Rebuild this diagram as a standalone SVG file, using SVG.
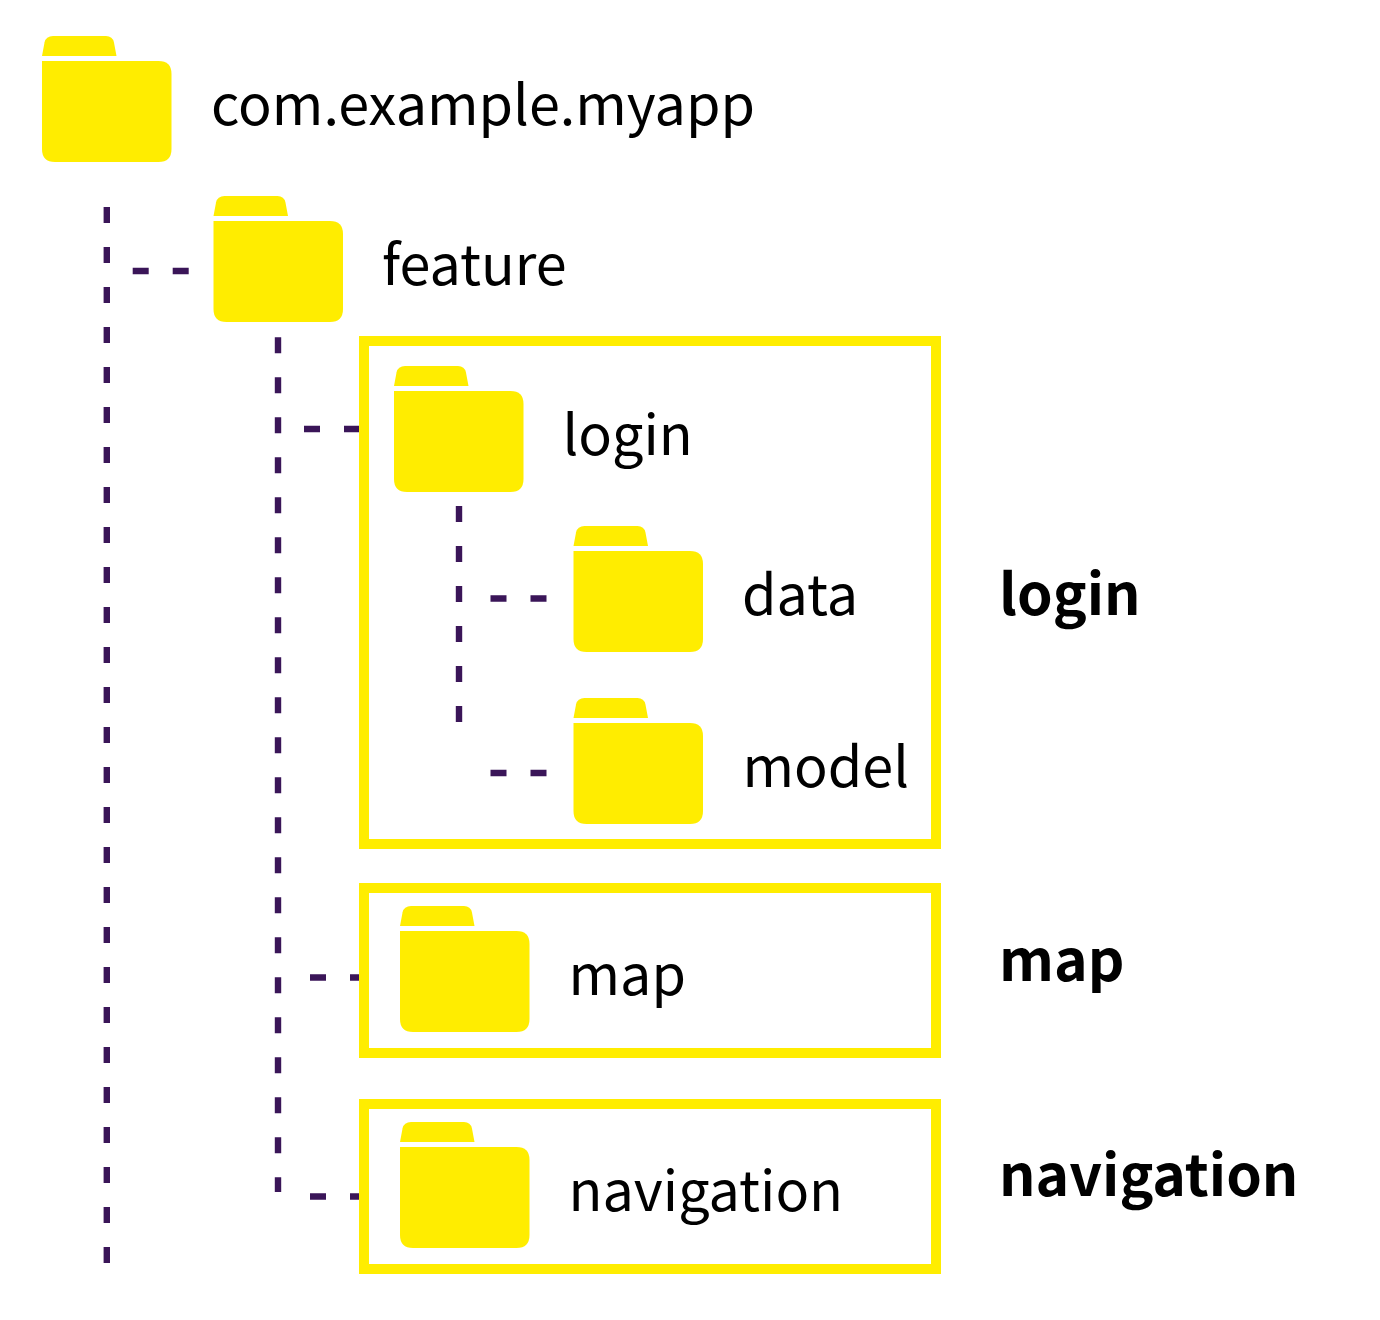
<svg xmlns="http://www.w3.org/2000/svg" width="1380" height="1320" viewBox="0 0 1380 1320">
<style>
.f{fill:#ffed00}
.b{fill:none;stroke:#ffed00;stroke-width:10}
.d{fill:none;stroke:#3a1558;stroke-width:6.4;stroke-dasharray:16 24}
text{font-family:"Noto Sans CJK SC","Source Sans Pro","Noto Sans",sans-serif;font-size:55.7px;fill:#000}
.t{font-weight:700;font-size:57px}
</style>
<defs>
<g id="folder">
<path class="f" d="M0 20L2.500 6.500Q4 0 11 0H64Q70.500 0 72 6.500L74.500 20Z"/>
<path class="f" d="M0 25H116.500Q129.500 25 129.500 38V113Q129.500 126 116.500 126H13Q0 126 0 113Z"/>
</g>
</defs>
<rect width="1380" height="1320" fill="#fff"/>
<g id="connectors">
<path class="d" d="M106.800 207V1264"/>
<path class="d" d="M132.700 271H189"/>
<path class="d" d="M278 337.300V1192"/>
<path class="d" d="M304 429H359"/>
<path class="d" d="M459 506V722"/>
<path class="d" d="M490.500 598.500H547"/>
<path class="d" d="M490.500 773H547"/>
<path class="d" d="M310 977.500H359"/>
<path class="d" d="M310 1196.500H359"/>
</g>
<g id="box-login"><rect class="b" x="364" y="341" width="572" height="503"/><text class="t" x="999" y="615">login</text></g>
<g id="box-map"><rect class="b" x="364" y="888" width="572" height="165"/><text class="t" x="999" y="981">map</text></g>
<g id="box-navigation"><rect class="b" x="364" y="1104" width="572" height="165"/><text class="t" x="999" y="1196">navigation</text></g>
<g id="node-root"><use href="#folder" x="42" y="36"/><text x="211" y="125">com.example.myapp</text></g>
<g id="node-feature"><use href="#folder" x="213.500" y="196"/><text x="382" y="285">feature</text></g>
<g id="node-login"><use href="#folder" x="394" y="366"/><text x="562.500" y="455">login</text></g>
<g id="node-data"><use href="#folder" x="573.500" y="526"/><text x="742" y="615">data</text></g>
<g id="node-model"><use href="#folder" x="573.500" y="698"/><text x="742.500" y="787">model</text></g>
<g id="node-map"><use href="#folder" x="400" y="906"/><text x="568.500" y="995">map</text></g>
<g id="node-navigation"><use href="#folder" x="400" y="1122"/><text x="568.500" y="1211">navigation</text></g>
</svg>
